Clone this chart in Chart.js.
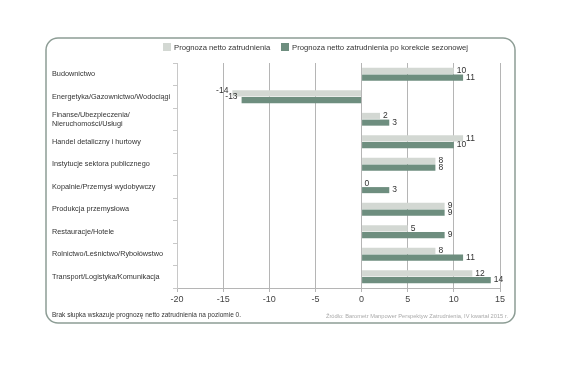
<!DOCTYPE html>
<html>
<head>
<meta charset="utf-8">
<script src="https://cdn.jsdelivr.net/npm/chart.js@4.4.0/dist/chart.umd.min.js"></script>
<style>
  body { margin: 0; background: #fff; }
  canvas { display: block; }
</style>
</head>
<body>
<canvas id="forecastChart" width="584" height="377"></canvas>
<script>
const categories = [
    'Budownictwo',
    'Energetyka/Gazownictwo/Wodociągi',
    ['Finanse/Ubezpieczenia/', 'Nieruchomości/Usługi'],
    'Handel detaliczny i hurtowy',
    'Instytucje sektora publicznego',
    'Kopalnie/Przemysł wydobywczy',
    'Produkcja przemysłowa',
    'Restauracje/Hotele',
    'Rolnictwo/Leśnictwo/Rybołówstwo',
    'Transport/Logistyka/Komunikacja'
];
const netForecast = [10, -14, 2, 11, 8, 0, 9, 5, 8, 12];
const seasonalForecast = [11, -13, 3, 10, 8, 3, 9, 9, 11, 14];
const seriesNames = ['Prognoza netto zatrudnienia', 'Prognoza netto zatrudnienia po korekcie sezonowej'];
const noteText = 'Brak słupka wskazuje prognozę netto zatrudnienia na poziomie 0.';
const sourceText = 'Źródło: Barometr Manpower Perspektyw Zatrudnienia, IV kwartał 2015 r.';

const FONT = '"Liberation Sans", Arial, sans-serif';

// frame, legend, footnotes and value labels
const decorations = {
    id: 'decorations',
    beforeDraw(chart) {
        const c = chart.ctx;
        c.save();
        c.strokeStyle = '#8d9d95';
        c.lineWidth = 1.5;
        c.beginPath();
        c.roundRect(46, 38, 469, 285, 12);
        c.stroke();
        c.restore();
    },
    afterDatasetsDraw(chart) {
        const c = chart.ctx;
        c.save();
        c.font = '8.5px ' + FONT;
        c.fillStyle = '#333';
        c.textBaseline = 'middle';
        chart.data.datasets.forEach((ds, i) => {
            chart.getDatasetMeta(i).data.forEach((bar, j) => {
                const v = ds.data[j];
                if (v < 0) {
                    c.textAlign = 'right';
                    c.fillText(v, bar.x - 4, bar.y - 3);
                } else {
                    c.textAlign = 'left';
                    c.fillText(v, bar.x + 3, bar.y);
                }
            });
        });

        // legend
        c.textAlign = 'left';
        c.font = '7.7px ' + FONT;
        let x = 163;
        chart.data.datasets.forEach((ds, i) => {
            c.fillStyle = ds.backgroundColor;
            c.fillRect(x, 43, 8, 8);
            c.fillStyle = '#333';
            c.fillText(seriesNames[i], x + 11, 47.5);
            x = 281;
        });

        // footnotes
        c.font = '6.5px ' + FONT;
        c.fillStyle = '#333';
        c.fillText(noteText, 52, 315);
        c.font = '5.7px ' + FONT;
        c.fillStyle = '#aaa';
        c.textAlign = 'right';
        c.fillText(sourceText, 508, 316);
        c.restore();
    }
};

new Chart(document.getElementById('forecastChart'), {
    type: 'bar',
    data: {
        labels: categories,
        datasets: [{
            label: seriesNames[0],
            data: netForecast,
            backgroundColor: '#d3d8d3',
            categoryPercentage: 0.6,
            barPercentage: 0.9
        }, {
            label: seriesNames[1],
            data: seasonalForecast,
            backgroundColor: '#6e8e7f',
            categoryPercentage: 0.6,
            barPercentage: 0.9
        }]
    },
    options: {
        indexAxis: 'y',
        responsive: false,
        animation: false,
        layout: {
            padding: { top: 63, left: 52, right: 84, bottom: 0 }
        },
        plugins: {
            legend: { display: false },
            tooltip: { enabled: false }
        },
        scales: {
            x: {
                min: -20,
                max: 15,
                afterFit: s => { s.height = 89; },
                ticks: {
                    stepSize: 5,
                    color: '#444',
                    padding: 2,
                    font: { family: FONT, size: 9 }
                },
                grid: {
                    color: '#b5b5b5',
                    tickLength: 4
                },
                border: { color: '#b5b5b5' }
            },
            y: {
                afterFit: s => { s.width = 125; },
                ticks: {
                    crossAlign: 'far',
                    color: '#333',
                    padding: 2,
                    font: { family: FONT, size: 7.3, lineHeight: 1.3 }
                },
                grid: {
                    drawOnChartArea: false,
                    color: '#c8c8c8',
                    tickLength: 4
                },
                border: { color: '#c8c8c8' }
            }
        }
    },
    plugins: [decorations]
});
</script>
</body>
</html>
